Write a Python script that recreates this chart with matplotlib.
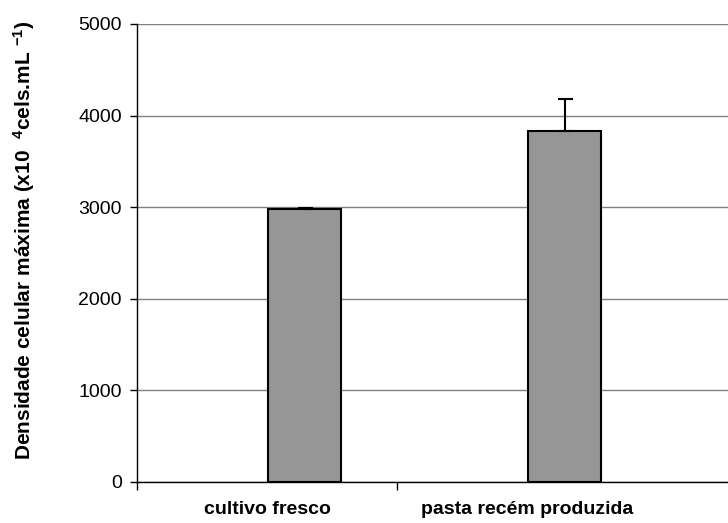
import numpy as np
import matplotlib.pyplot as plt

# --- Daten ---
categorias = ["cultivo fresco", "pasta recém produzida"]
densidade = [2975, 3830]
erro_sup = [20, 350]
y_ticks = [0, 1000, 2000, 3000, 4000, 5000]

plt.rcParams['font.family'] = ['Liberation Sans', 'DejaVu Sans']
plt.rcParams['mathtext.fontset'] = 'custom'
plt.rcParams['mathtext.rm'] = 'Liberation Sans'
plt.rcParams['mathtext.bf'] = 'Liberation Sans:bold'
plt.rcParams['mathtext.default'] = 'bf'

fig = plt.figure(figsize=(7.28, 5.23), dpi=100)
W, H = 728, 523
ax = fig.add_axes([137 / W, 1 - 482 / H, 1 - 137 / W, (482 - 24) / H])

pos = np.arange(len(categorias))
offset = 0.145  # zweite Serie im Cluster (erste leer)
ax.bar(pos + offset, densidade, width=0.28, color="#969696",
       edgecolor="black", linewidth=1.5, zorder=3)
ax.errorbar(pos + offset, densidade, yerr=[np.zeros(len(erro_sup)), erro_sup],
            fmt="none", ecolor="black", elinewidth=1.5, capsize=5.4,
            capthick=1.5, zorder=4)

ax.set_ylim(0, 5000)
ax.set_xlim(-0.5, 0.5 + (728 - 397) / 260)
ax.set_yticks(y_ticks)
ax.set_yticklabels([str(t) for t in y_ticks], fontsize=14)
ax.yaxis.grid(True, color="#808080", linewidth=1)
ax.set_axisbelow(True)

# Kategorie-Ticks zwischen den Kategorien, Beschriftungen in der Mitte
ax.set_xticks([-0.5, 0.5])
ax.set_xticklabels([])
ax.set_xticks(pos, minor=True)
ax.set_xticklabels(categorias, minor=True, fontsize=14, fontweight="bold")
ax.tick_params(axis="x", which="major", length=6, width=1, direction="out")
ax.tick_params(axis="x", which="minor", length=0, pad=14)
ax.tick_params(axis="y", length=5, width=1, direction="out", pad=6)

for s in ["top", "right"]:
    ax.spines[s].set_visible(False)
ax.spines["left"].set_linewidth(1)
ax.spines["bottom"].set_linewidth(1)

ax.set_ylabel(r"Densidade celular máxima (x10  $^{4}$cels.mL $^{-1}$)",
              fontsize=15, fontweight="bold")
ax.yaxis.set_label_coords(-0.17, 0.528)

fig.savefig("out.png", dpi=100)
